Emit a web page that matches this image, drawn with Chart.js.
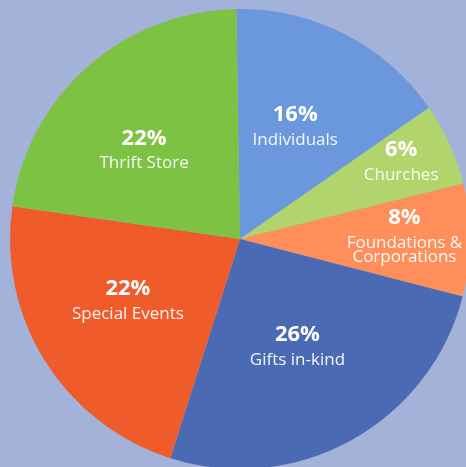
<!DOCTYPE html>
<html>
<head>
<meta charset="utf-8">
<script src="https://cdn.jsdelivr.net/npm/chart.js@4/dist/chart.umd.min.js"></script>
<style>
  html, body { margin: 0; padding: 0; width: 466px; height: 467px; overflow: hidden; background: #a2b2d9; }
  #wrap { position: absolute; left: 0; top: 0; width: 480px; height: 480px; }
</style>
</head>
<body>
<div id="wrap"><canvas id="c"></canvas></div>
<script>
const categories = ["Individuals", "Churches", "Foundations & Corporations", "Gifts in-kind", "Special Events", "Thrift Store"];
const labelLines = [["Individuals"], ["Churches"], ["Foundations &", "Corporations"], ["Gifts in-kind"], ["Special Events"], ["Thrift Store"]];
// slice sizes (shares of the circle)
const shares = [15.6, 5.8, 7.9, 25.9, 22.4, 22.5];
// percentages printed on the slices
const percentLabels = ["16%", "6%", "8%", "26%", "22%", "22%"];
const colors = ["#6b97dc", "#b1d56c", "#fe8f5b", "#4a6bb3", "#f05b2b", "#7dc243"];

// label placement: fraction of radius, angle shift in degrees
const labelRadius = [0.543, 0.777, 0.716, 0.532, 0.557, 0.568];
const labelShift = [-0.9, -1.25, -3.35, 0.95, 3.15, -5.9];

const labelPlugin = {
  id: 'sliceLabels',
  afterDatasetsDraw(chart) {
    const ctx = chart.ctx;
    const meta = chart.getDatasetMeta(0);
    meta.data.forEach((arc, i) => {
      const p = arc.getProps(['x', 'y', 'startAngle', 'endAngle', 'outerRadius'], true);
      const mid = (p.startAngle + p.endAngle) / 2 + labelShift[i] * Math.PI / 180;
      const r = p.outerRadius * labelRadius[i];
      const x = p.x + Math.cos(mid) * r;
      const y = p.y + Math.sin(mid) * r;
      ctx.save();
      ctx.textAlign = 'center';
      ctx.textBaseline = 'middle';
      ctx.fillStyle = '#ffffff';
      ctx.font = 'bold 22px "Open Sans", sans-serif';
      ctx.fillText(percentLabels[i], x, y - 12);
      ctx.fillStyle = 'rgba(255,255,255,0.93)';
      ctx.font = '17px "Open Sans", sans-serif';
      const lines = labelLines[i];
      const step = lines.length > 1 ? 14 : 0;
      lines.forEach((ln, k) => ctx.fillText(ln, x, y + 13 + k * step));
      ctx.restore();
    });
  }
};

new Chart(document.getElementById('c'), {
  type: 'pie',
  data: {
    labels: categories,
    datasets: [{
      data: shares,
      backgroundColor: colors,
      borderWidth: 0
    }]
  },
  options: {
    responsive: true,
    maintainAspectRatio: false,
    animation: false,
    rotation: -0.9,
    layout: { padding: { left: 10, right: 10, top: 9, bottom: 11 } },
    plugins: {
      legend: { display: false },
      tooltip: { enabled: false }
    }
  },
  plugins: [labelPlugin]
});
</script>
</body>
</html>
